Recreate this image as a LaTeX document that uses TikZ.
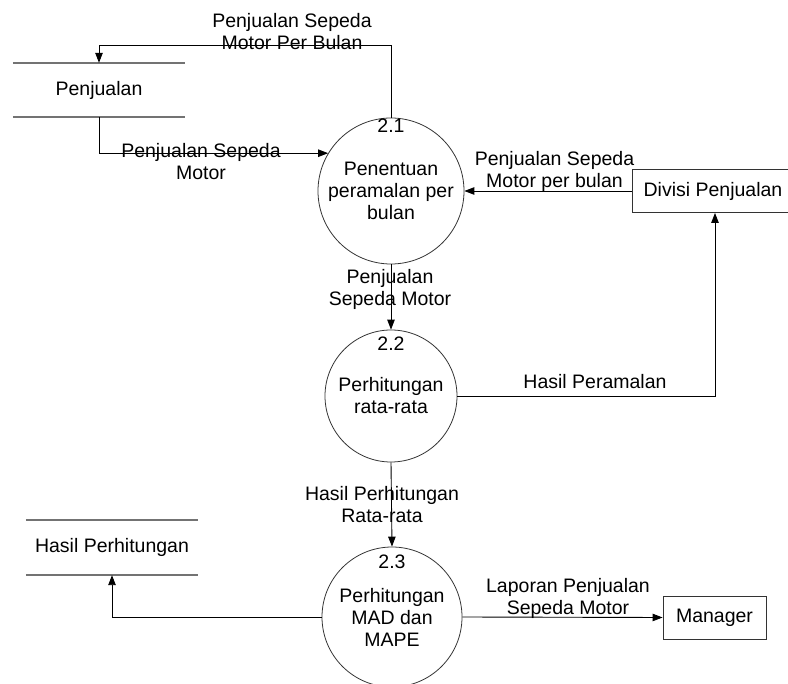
\documentclass[tikz,border=0pt]{standalone}
\usepackage{fontspec}
\setmainfont{Liberation Sans}
\usetikzlibrary{arrows.meta}

\tikzset{
  dfdfont/.style={font=\fontsize{19.5}{22}\selectfont},
  process/.style={circle, draw=black!80, line width=0.8pt, inner sep=0pt,
    align=center, dfdfont},
  entity/.style={rectangle, draw=black!80, line width=0.9pt, inner sep=0pt,
    dfdfont},
  store/.style={rectangle, inner sep=0pt, dfdfont},
  storeline/.style={draw=black!55, line width=1.6pt},
  procnum/.style={anchor=north, inner sep=0pt, dfdfont},
  flowlabel/.style={anchor=north, inner sep=0pt, align=center, dfdfont},
  flow/.style={draw=black, line width=0.9pt,
    -{Triangle[length=10pt,width=7.5pt]}},
}

\begin{document}
\begin{tikzpicture}[x=1pt, y=-1pt]
  \useasboundingbox (0,0) rectangle (788,684);
  \clip (0,0) rectangle (788,684);

  % processes
  \node[process, minimum size=146] (p1) at (391,191) {Penentuan\\peramalan per\\bulan};
  \node[process, minimum size=132] (p2) at (391,396) {Perhitungan\\rata-rata};
  \node[process, minimum size=140] (p3) at (392,617) {Perhitungan\\MAD dan\\MAPE};
  \node[procnum] (n1) at ([yshift=-1]p1.north) {2.1};
  \node[procnum] (n2) at ([yshift=-7]p2.north) {2.2};
  \node[procnum] (n3) at ([yshift=-8]p3.north) {2.3};

  % external entities (the sales division box runs past the right edge)
  \node[entity, minimum width=166, minimum height=43] (divisi) at (715,191) {\hspace*{-4pt}Divisi Penjualan};
  \node[entity, minimum width=103, minimum height=43] (manager) at (714.5,617.5) {Manager};

  % data stores
  \node[store, minimum width=172, minimum height=54] (s1) at (99,90) {Penjualan};
  \node[store, minimum width=172, minimum height=55] (s2) at (112,547.5) {Hasil Perhitungan};
  \draw[storeline] (s1.north west) -- (s1.north east);
  \draw[storeline] (s1.south west) -- (s1.south east);
  \draw[storeline] (s2.north west) -- (s2.north east);
  \draw[storeline] (s2.south west) -- (s2.south east);

  % data flows
  \coordinate (k1) at (391,45);
  \draw[flow] (p1.north) -- (k1) -| (s1.north);
  \draw[flow] (s1.south) |- (p1.149.6);
  \draw[flow] (divisi.west) -- (p1.east);
  \draw[flow] (p1.south) -- (p2.north);
  \draw[flow] (p2.east) -| (divisi.south);
  \draw[flow] (p2.south) -- (p3.north);
  \draw[flow] (p3.west) -| (s2.south);
  \draw[flow] (p3.east) -- (manager.west);

  % flow labels
  \node[flowlabel] (l1) at (292,13.5) {Penjualan Sepeda\\Motor Per Bulan};
  \node[flowlabel] (l2) at (201,143.5) {Penjualan Sepeda\\Motor};
  \node[flowlabel] (l3) at (554.5,151.5) {Penjualan Sepeda\\Motor per bulan};
  \node[flowlabel] (l4) at (390,269) {Penjualan\\Sepeda Motor};
  \node[flowlabel] (l5) at (595,374) {Hasil Peramalan};
  \node[flowlabel] (l6) at (382,486) {Hasil Perhitungan\\Rata-rata};
  \node[flowlabel] (l7) at (568,578) {Laporan Penjualan\\Sepeda Motor};
\end{tikzpicture}
\end{document}
